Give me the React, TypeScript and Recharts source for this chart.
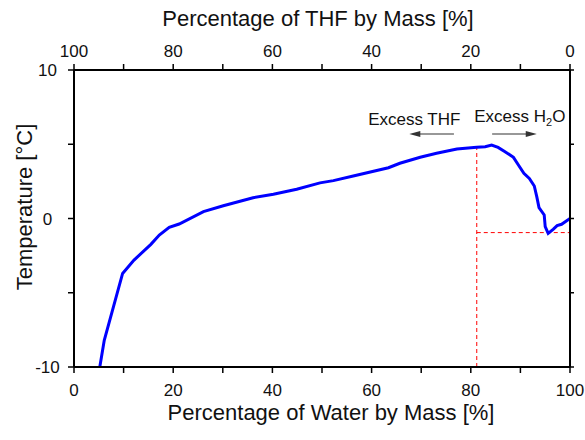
import React from 'react';
import {
  LineChart, Line, XAxis, YAxis, ReferenceLine, ReferenceDot, Label
} from 'recharts';

// water mass fraction [%] and freezing temperature [°C]
const water = [5.2, 6.1, 9.8, 12.1, 15.5, 17.2, 19.2, 21.2, 26.1, 30.1, 36.1, 40.2, 44.9, 49.6, 52.3, 56.3, 63.4, 65.7, 69.8, 73.1, 77.2, 81.2, 82.9, 84.2, 85.5, 86.9, 88.6, 89.6, 90.7, 91.8, 92.8, 93.3, 93.75, 94.8, 95.0, 95.6, 96.6, 97.4, 98.3, 100];
const temperature = [-10, -8.2, -3.7, -2.8, -1.74, -1.11, -0.6, -0.37, 0.46, 0.86, 1.4, 1.63, 1.97, 2.4, 2.55, 2.86, 3.42, 3.72, 4.12, 4.39, 4.68, 4.79, 4.83, 4.95, 4.79, 4.5, 4.12, 3.6, 3.04, 2.7, 2.19, 1.47, 0.73, 0.24, -0.55, -1.0, -0.73, -0.48, -0.39, 0];

const xTicks = [0, 10, 20, 30, 40, 50, 60, 70, 80, 90, 100];
const xLabelled = [0, 20, 40, 60, 80, 100];
const yTicks = [-10, -5, 0, 5, 10];
const yLabelled = [-10, 0, 10];

// eutectic guide lines
const eutecticWater = 81.2;
const peakTemp = 4.79;
const minTemp = -0.95;

// arrows and their captions
const thfArrow = [{ x: 76.6, y: 5.69 }, { x: 67.6, y: 5.69 }];
const waterArrow = [{ x: 84.3, y: 5.69 }, { x: 93.3, y: 5.69 }];
const thfCaption = { x: 59.3, y: 6.3 };
const waterCaption = { x: 80.7, y: 6.52 };

const data = water.map((w, i) => ({ water: w, temp: temperature[i] }));

const FONT = '"Liberation Sans", Arial, sans-serif';
const INK = '#111';

const BottomTick = ({ x, y, payload }: any) =>
  xLabelled.includes(payload.value) ? (
    <text x={x} y={y + 21} textAnchor="middle" fontSize={17} fontFamily={FONT} fill={INK}>
      {payload.value}
    </text>
  ) : <g />;

const TopTick = ({ x, y, payload }: any) =>
  xLabelled.includes(payload.value) ? (
    <text x={x} y={y - 5.5} textAnchor="middle" fontSize={17} fontFamily={FONT} fill={INK}>
      {100 - payload.value}
    </text>
  ) : <g />;

const LeftTick = ({ x, y, payload }: any) =>
  yLabelled.includes(payload.value) ? (
    <text x={x - 18.5} y={y + 6} textAnchor="middle" fontSize={17} fontFamily={FONT} fill={INK}>
      {payload.value}
    </text>
  ) : <g />;

const Arrow = (props: any) => {
  const { x1, y1, x2, y2 } = props;
  const dir = x2 > x1 ? 1 : -1;
  return (
    <g>
      <line x1={x1} y1={y1} x2={x2 - dir * 8} y2={y2} stroke="#333" strokeWidth={1.2} />
      <polygon points={`${x2},${y2} ${x2 - dir * 11},${y2 - 3} ${x2 - dir * 11},${y2 + 3}`} fill="#333" />
    </g>
  );
};

const App = () => (
  <div style={{ position: 'absolute', left: 0, top: 0, width: 585, height: 440, background: '#fff' }}>
    <LineChart width={585} height={440} data={data} margin={{ top: 0, right: 0, bottom: 0, left: 0 }}>
      <XAxis
        xAxisId="bottom"
        dataKey="water"
        type="number"
        domain={[0, 100]}
        ticks={xTicks}
        interval={0}
        height={73}
        tickSize={6}
        tickMargin={2}
        axisLine={{ stroke: '#000', strokeWidth: 2 }}
        tickLine={{ stroke: '#000', strokeWidth: 1.5 }}
        tick={BottomTick}
        allowDataOverflow
      >
        <Label
          content={({ viewBox }: any) => (
            <text x={viewBox.x + viewBox.width / 2 + 9} y={viewBox.y + 52.5} textAnchor="middle" fontSize={22} fontFamily={FONT} fill={INK}>
              Percentage of Water by Mass [%]
            </text>
          )}
        />
      </XAxis>
      <XAxis
        xAxisId="top"
        orientation="top"
        dataKey="water"
        type="number"
        domain={[0, 100]}
        ticks={xTicks}
        interval={0}
        height={70}
        tickSize={6}
        tickMargin={2}
        axisLine={{ stroke: '#000', strokeWidth: 2 }}
        tickLine={{ stroke: '#000', strokeWidth: 1.5 }}
        tick={TopTick}
        allowDataOverflow
      >
        <Label
          content={({ viewBox }: any) => (
            <text x={viewBox.x + viewBox.width / 2 - 4} y={viewBox.y + 25.5} textAnchor="middle" fontSize={22} fontFamily={FONT} fill={INK}>
              Percentage of THF by Mass [%]
            </text>
          )}
        />
      </XAxis>
      <YAxis
        yAxisId="left"
        type="number"
        domain={[-10, 10]}
        ticks={yTicks}
        interval={0}
        width={74}
        tickSize={6}
        tickMargin={2}
        axisLine={{ stroke: '#000', strokeWidth: 2 }}
        tickLine={{ stroke: '#000', strokeWidth: 1.5 }}
        tick={LeftTick}
        allowDataOverflow
      >
        <Label
          content={({ viewBox }: any) => {
            const cx = 32;
            const cy = 207;
            return (
              <text x={cx} y={cy} transform={`rotate(-90 ${cx} ${cy})`} textAnchor="middle" fontSize={22} fontFamily={FONT} fill={INK}>
                Temperature [°C]
              </text>
            );
          }}
        />
      </YAxis>
      <YAxis
        yAxisId="right"
        orientation="right"
        type="number"
        domain={[-10, 10]}
        ticks={yTicks}
        interval={0}
        width={15}
        tickSize={4}
        axisLine={{ stroke: '#000', strokeWidth: 2 }}
        tickLine={{ stroke: '#000', strokeWidth: 1.5 }}
        tick={() => <g />}
        allowDataOverflow
      />

      <ReferenceLine
        xAxisId="bottom"
        yAxisId="left"
        segment={[{ x: eutecticWater, y: -10 }, { x: eutecticWater, y: peakTemp }]}
        stroke="#ff0000"
        strokeWidth={1}
        strokeDasharray="4 3"
      />
      <ReferenceLine
        xAxisId="bottom"
        yAxisId="left"
        segment={[{ x: eutecticWater, y: minTemp }, { x: 100, y: minTemp }]}
        stroke="#ff0000"
        strokeWidth={1}
        strokeDasharray="4 3"
      />
      <ReferenceLine xAxisId="bottom" yAxisId="left" segment={thfArrow} shape={Arrow} />
      <ReferenceLine xAxisId="bottom" yAxisId="left" segment={waterArrow} shape={Arrow} />
      <ReferenceDot
        xAxisId="bottom"
        yAxisId="left"
        x={thfCaption.x}
        y={thfCaption.y}
        r={1}
        shape={(p: any) => (
          <text x={p.cx} y={p.cy} fontSize={17} fontFamily={FONT} fill={INK}>Excess THF</text>
        )}
      />
      <ReferenceDot
        xAxisId="bottom"
        yAxisId="left"
        x={waterCaption.x}
        y={waterCaption.y}
        r={1}
        shape={(p: any) => (
          <text x={p.cx} y={p.cy} fontSize={17} fontFamily={FONT} fill={INK}>
            Excess H
            <tspan fontSize={11} dy={4}>2</tspan>
            <tspan dy={-4}>O</tspan>
          </text>
        )}
      />

      <Line
        xAxisId="bottom"
        yAxisId="left"
        type="linear"
        dataKey="temp"
        stroke="#0000ff"
        strokeWidth={3}
        dot={false}
        isAnimationActive={false}
      />
    </LineChart>
  </div>
);

export default App;
